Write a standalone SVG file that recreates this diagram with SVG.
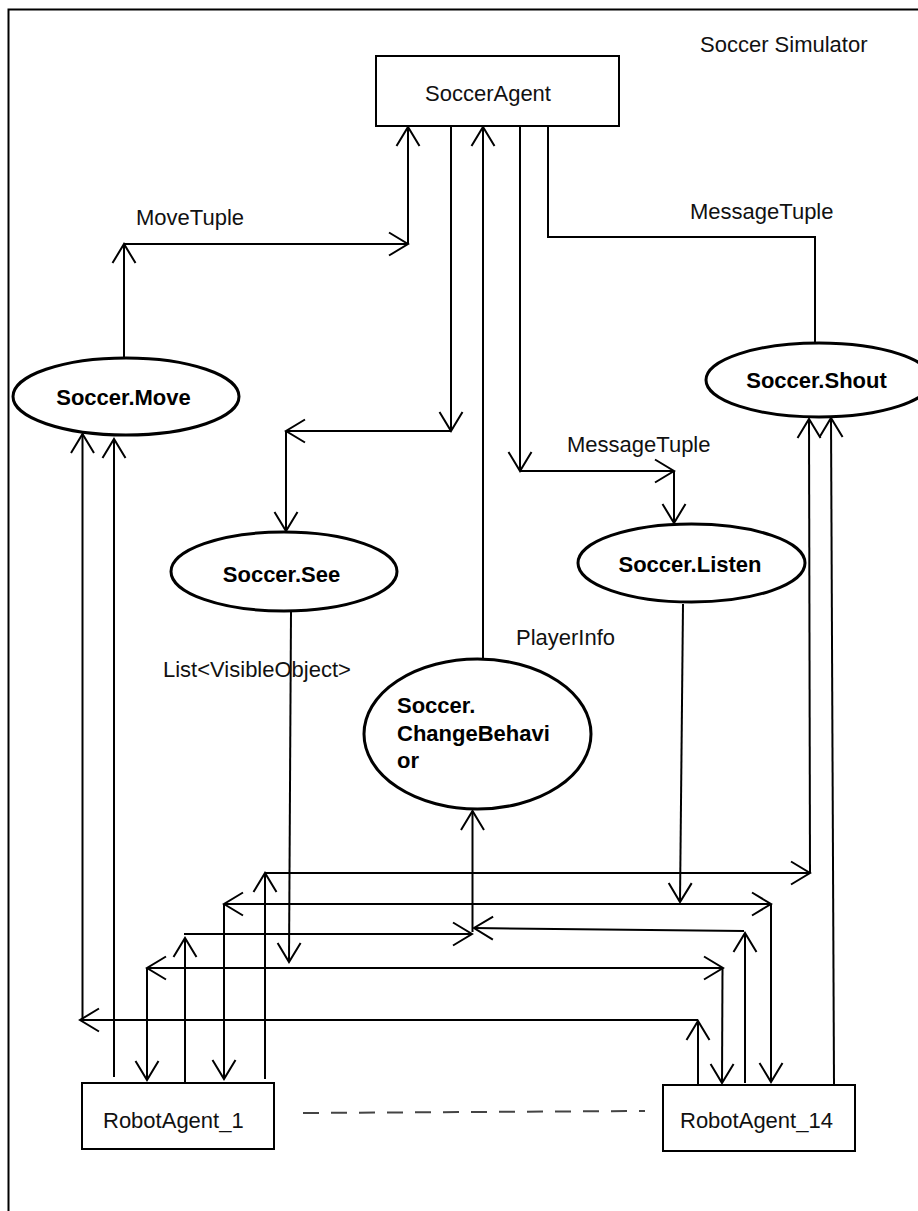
<svg xmlns="http://www.w3.org/2000/svg" width="918" height="1211" viewBox="0 0 918 1211">
  <style>
    .box { fill: #fff; stroke: #000; stroke-width: 2; }
    .oval { fill: #fff; stroke: #000; stroke-width: 3; }
    .lbl { font-family: "Liberation Sans", Arial, sans-serif; font-size: 22px; fill: #111; }
    .bold { font-family: "Liberation Sans", Arial, sans-serif; font-size: 22px; font-weight: bold; fill: #000; }
    .mid { text-anchor: middle; }
    .wire { fill: none; stroke: #000; stroke-width: 2; }
    .arrow { fill: none; stroke: #000; stroke-width: 2; marker-end: url(#open); }
    .dash { fill: none; stroke: #444; stroke-width: 2; stroke-dasharray: 16 12; }
  </style>
  <defs>
    <marker id="open" markerUnits="userSpaceOnUse" orient="auto" overflow="visible" markerWidth="1" markerHeight="1" refX="0" refY="0">
      <path d="M-19,-11.5 L0,0 L-19,11.5" fill="none" stroke="#000" stroke-width="2"/>
    </marker>
  </defs>

  <rect width="918" height="1211" fill="#fff"/>

  <!-- simulator frame -->
  <g id="frame">
    <path d="M8.5,1211 V9.5 H918" fill="none" stroke="#000" stroke-width="2"/>
    <text class="lbl" x="700" y="52">Soccer Simulator</text>
  </g>

  <!-- connectors -->
  <g id="connectors">
    <!-- Soccer.Move -> SoccerAgent (MoveTuple) -->
    <line class="arrow" x1="124" y1="358" x2="124" y2="244"/>
    <line class="arrow" x1="124" y1="244" x2="408" y2="244"/>
    <line class="arrow" x1="408" y1="244" x2="408" y2="127"/>

    <!-- SoccerAgent -> Soccer.See -->
    <line class="arrow" x1="451" y1="126" x2="451" y2="431"/>
    <line class="arrow" x1="451" y1="431" x2="286" y2="431"/>
    <line class="arrow" x1="286" y1="431" x2="286" y2="531"/>

    <!-- Soccer.ChangeBehavior -> SoccerAgent (PlayerInfo) -->
    <line class="arrow" x1="483" y1="659" x2="483" y2="127"/>

    <!-- SoccerAgent -> Soccer.Listen (MessageTuple) -->
    <line class="arrow" x1="520" y1="126" x2="520" y2="471"/>
    <line class="arrow" x1="520" y1="471" x2="674" y2="471"/>
    <line class="arrow" x1="674" y1="471" x2="674" y2="523"/>

    <!-- Soccer.Shout -> SoccerAgent (MessageTuple) -->
    <polyline class="wire" points="548,126 548,237 815,237 815,343"/>

    <!-- RobotAgent_14 -> Soccer.Move -->
    <line class="arrow" x1="698" y1="1084" x2="698" y2="1021"/>
    <line class="arrow" x1="698" y1="1020" x2="80" y2="1020"/>
    <line class="arrow" x1="82.5" y1="1020" x2="82.5" y2="434"/>

    <!-- RobotAgent_1 -> Soccer.Move -->
    <line class="arrow" x1="114" y1="1077" x2="114" y2="439"/>

    <!-- Soccer.See -> both robots -->
    <line class="arrow" x1="291" y1="612" x2="289" y2="962"/>
    <line class="arrow" x1="289" y1="968" x2="147" y2="968"/>
    <line class="arrow" x1="147" y1="968" x2="147" y2="1080"/>
    <line class="arrow" x1="289" y1="968" x2="723" y2="968"/>
    <line class="arrow" x1="722.5" y1="968" x2="722" y2="1083"/>

    <!-- Soccer.Listen -> both robots -->
    <line class="arrow" x1="683" y1="604" x2="680" y2="902"/>
    <line class="arrow" x1="680" y1="904" x2="224" y2="904"/>
    <line class="arrow" x1="224" y1="904" x2="224" y2="1079"/>
    <line class="arrow" x1="680" y1="904" x2="771" y2="904"/>
    <line class="arrow" x1="771" y1="904" x2="771" y2="1082"/>

    <!-- both robots -> Soccer.ChangeBehavior -->
    <line class="arrow" x1="185" y1="1083" x2="185" y2="938"/>
    <line class="arrow" x1="184" y1="934" x2="472" y2="934"/>
    <line class="arrow" x1="745" y1="1083" x2="745" y2="933"/>
    <line class="arrow" x1="744" y1="931" x2="474" y2="928"/>
    <line class="arrow" x1="472.5" y1="932" x2="472.5" y2="811"/>

    <!-- both robots -> Soccer.Shout -->
    <line class="arrow" x1="265" y1="1079" x2="265" y2="873"/>
    <line class="arrow" x1="265" y1="873" x2="810" y2="873"/>
    <line class="arrow" x1="810" y1="873" x2="809" y2="419"/>
    <line class="arrow" x1="834" y1="1085" x2="831" y2="418"/>

    <!-- further robot agents in between -->
    <line class="dash" x1="303" y1="1113" x2="645" y2="1111"/>
  </g>

  <g id="soccer-agent">
    <rect class="box" x="376" y="56" width="243" height="70"/>
    <text class="lbl" x="425" y="101">SoccerAgent</text>
  </g>

  <g id="soccer-move">
    <ellipse class="oval" cx="126" cy="396.5" rx="113" ry="38.5"/>
    <text class="bold mid" x="123.5" y="405">Soccer.Move</text>
  </g>

  <g id="soccer-shout">
    <ellipse class="oval" cx="819" cy="380" rx="113" ry="37"/>
    <text class="bold mid" x="816.5" y="388">Soccer.Shout</text>
  </g>

  <g id="soccer-see">
    <ellipse class="oval" cx="284" cy="571.5" rx="113" ry="39.5"/>
    <text class="bold mid" x="281.5" y="582">Soccer.See</text>
  </g>

  <g id="soccer-listen">
    <ellipse class="oval" cx="691.5" cy="563" rx="113.5" ry="39"/>
    <text class="bold mid" x="690" y="572">Soccer.Listen</text>
  </g>

  <g id="soccer-change-behavior">
    <ellipse class="oval" cx="477.5" cy="734" rx="113.5" ry="75"/>
    <text class="bold" x="397" y="713">Soccer.</text>
    <text class="bold" x="397" y="741">ChangeBehavi</text>
    <text class="bold" x="397" y="768">or</text>
  </g>

  <g id="robot-agent-1">
    <rect class="box" x="82" y="1083" width="192" height="66"/>
    <text class="lbl" x="103" y="1128">RobotAgent_1</text>
  </g>

  <g id="robot-agent-14">
    <rect class="box" x="663" y="1085" width="192" height="66"/>
    <text class="lbl" x="680" y="1128">RobotAgent_14</text>
  </g>

  <!-- connector labels -->
  <g id="labels">
    <text class="lbl" x="136" y="225">MoveTuple</text>
    <text class="lbl" x="690" y="219">MessageTuple</text>
    <text class="lbl" x="567" y="452">MessageTuple</text>
    <text class="lbl" x="516" y="645">PlayerInfo</text>
    <text class="lbl" x="163" y="677">List&lt;VisibleObject&gt;</text>
  </g>
</svg>
